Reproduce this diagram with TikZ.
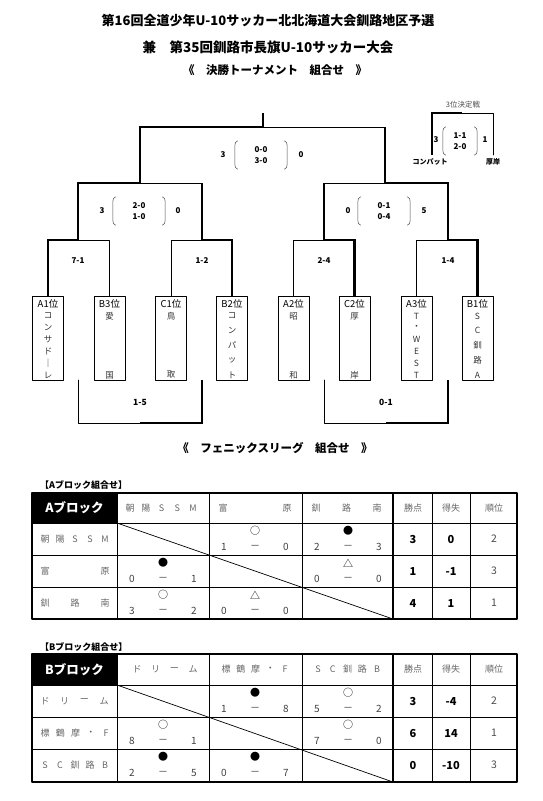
\documentclass[tikz,border=0pt]{standalone}
\usepackage{fontspec}
\setmainfont{Noto Sans CJK JP}
\newcommand\fs[1]{\fontsize{#1}{#1}\selectfont}
% team box with its entry written downwards
\newcommand\team[5]{%
  \node[teambox] (#1) at (#2,338) {};
  \node[teamhd] (#1h) at (#2,304) {#3};
  \foreach \c [count=\i] in {#4}
    \node[teamch] (#1c\i) at (#2,{316+(\i-1)*59/#5}) {\c};
}
% letters spread evenly from x0 to x1
\newcommand\spreadtxt[6]{%
  \foreach \c [count=\i] in {#6}
    \node[lbl] (#1\i) at ({#2+(\i-1)*(#3-#2)/#5},#4) {\c};
}
\newcommand\gamecell[6]{%
  \node[sym] (#1s) at ({#2+46},{#3+8}) {#4};
  \node[num] (#1a) at ({#2+15},{#3+24}) {#5};
  \node[num] (#1d) at ({#2+46},{#3+24}) {－};
  \node[num] (#1b) at ({#2+77},{#3+24}) {#6};
}
\newcommand\pointrow[5]{%
  \node[pt] (#1p) at (413,#2) {#3};
  \node[pt] (#1g) at (451,#2) {#4};
  \node[rk] (#1r) at (494,#2) {#5};
}
\newcommand\parens[1]{%
  \draw[paren] ([xshift=3pt]#1.north west) to[out=180,in=90] ([yshift=-5pt]#1.north west)
    -- ([yshift=5pt]#1.south west) to[out=-90,in=180] ([xshift=3pt]#1.south west);
  \draw[paren] ([xshift=-3pt]#1.north east) to[out=0,in=90] ([yshift=-5pt]#1.north east)
    -- ([yshift=5pt]#1.south east) to[out=-90,in=0] ([xshift=-3pt]#1.south east);
}
\begin{document}
\begin{tikzpicture}[x=1pt,y=-1pt,line join=round,line cap=round,
  title/.style={font=\bfseries\fs{13}},
  lose/.style={line width=0.8pt},
  win/.style={line width=2.8pt,line cap=butt,line join=miter},
  teambox/.style={draw,line width=0.8pt,minimum width=31pt,minimum height=84pt,inner sep=0},
  teamhd/.style={font=\fs{9.5},inner sep=0},
  teamch/.style={font=\fs{8.5},text=black!80,inner sep=0},
  score/.style={font=\bfseries\fs{8},inner sep=0},
  pair/.style={font=\bfseries\fs{8},align=center,minimum width=52pt,minimum height=28pt,inner sep=0},
  paren/.style={line width=0.5pt,black!70},
  lbl/.style={font=\fs{9},text=black!60,inner sep=0},
  sym/.style={font=\fs{10},inner sep=0},
  num/.style={font=\fs{10},text=black!75,inner sep=0},
  pt/.style={font=\bfseries\fs{11},inner sep=0},
  rk/.style={font=\fs{10.5},text=black!70,inner sep=0},
  grid/.style={line width=0.7pt},
  frame/.style={line width=1.4pt},
  tbltitle/.style={font=\bfseries\fs{9},anchor=west,inner sep=0},
  blk/.style={font=\bfseries\fs{12.5},text=white,inner sep=0}]
\useasboundingbox (0,0) rectangle (543,801);

\node[title] (t1) at (268,21) {第16回全道少年U-10サッカー北北海道大会釧路地区予選};
\node[title,font=\bfseries\fs{13.5}] (t2) at (268,47) {兼　第35回釧路市長旗U-10サッカー大会};
\node[title,font=\bfseries\fs{11.5}] (t3) at (275,70) {《　決勝トーナメント　組合せ　》};

\team{A1}{48}{A1位}{コ,ン,サ,ド,｜,レ}{5}
\team{B3}{109.5}{B3位}{愛,国}{1}
\team{C1}{171}{C1位}{鳥,取}{1}
\team{B2}{232}{B2位}{コ,ン,パ,ッ,ト}{4}
\team{A2}{293.5}{A2位}{昭,和}{1}
\team{C2}{354.5}{C2位}{厚,岸}{1}
\team{A3}{416.5}{A3位}{T,・,W,E,S,T}{5}
\team{B1}{477.5}{B1位}{S,C,釧,路,A}{4}

\path
(78,240) coordinate (q1)
(202,240) coordinate (q2)
(324,240) coordinate (q3)
(448,240) coordinate (q4)
(140,183) coordinate (s1)
(385,183) coordinate (s2)
(263,127) coordinate (f)
(263,113) coordinate (top)
(432,155) coordinate (p3l)
(493,155) coordinate (p3r)
(462,113) coordinate (p3)
(78,380) coordinate (l1)
(202,380) coordinate (l2)
(324,380) coordinate (l3)
(448,380) coordinate (l4)
(140,423) coordinate (lm1)
(386,423) coordinate (lm2)
;
% thin lines first, the winners on top
\draw[lose] (q1) -- (B3.north |- q1) -- (B3.north);
\draw[lose] (C1.north) -- (C1.north |- q2) -- (q2) |- (s1);
\draw[lose] (A2.north) -- (A2.north |- q3) -- (q3) |- (s2);
\draw[lose] (A3.north) -- (A3.north |- q4) -- (q4);
\draw[lose] (s2) |- (f);
\draw[lose] (p3) -| (p3r);
\draw[lose] (l1) |- (lm1);
\draw[lose] (l3) |- (lm2);
\draw[win] (A1.north) -- (A1.north |- q1) -- (q1) |- (s1) |- (f) -- (top);
\draw[win] (B2.north) -- (B2.north |- q2) -- (q2) -- (q2 |- s1);
\draw[win] (C2.north) -- (C2.north |- q3) -- (q3) -- (q3 |- s2);
\draw[win] (B1.north) -- (B1.north |- q4) -- (q4) |- (s2) -- (s2 |- f);
\draw[win] (p3l) |- (p3);
\draw[win] (lm1) -| (l2);
\draw[win] (lm2) -| (l4);

% results
\foreach \n/\x/\s in {r1/78/7-1, r2/202/1-2, r3/324/2-4, r4/448/1-4}
  \node[score] (\n) at (\x,261) {\s};
\node[pair] (fin) at (261,155) {0-0\\[3pt]3-0};
\node[pair] (sf1) at (139,211) {2-0\\[3pt]1-0};
\node[pair] (sf2) at (384,211) {0-1\\[3pt]0-4};
\node[pair,minimum width=34pt] (thd) at (460,141) {1-1\\[3pt]2-0};
\parens{fin} \parens{sf1} \parens{sf2} \parens{thd}
\foreach \n/\x/\y/\s in {fa/223/155/3, fb/301/155/0, sa/102/211/3, sb/178/211/0,
  sc/348/211/0, sd/424/211/5, ta/436/140/3, tb/485/140/1}
  \node[score] (\n) at (\x,\y) {\s};
\node[font=\fs{7.5},text=black!70,inner sep=0] (thdt) at (463,105) {3位決定戦};
\node[score,font=\bfseries\fs{7}] (thda) at (430,162) {コンパット};
\node[score,font=\bfseries\fs{7}] (thdb) at (493,162) {厚岸};
\node[score,font=\bfseries\fs{8.5}] (lg1) at (140,402) {1-5};
\node[score,font=\bfseries\fs{8.5}] (lg2) at (386,402) {0-1};

\node[title,font=\bfseries\fs{11.5}] (t4) at (275,448) {《　フェニックスリーグ　組合せ　》};

% A block
\begin{scope}[shift={(0,493)}]
\node[tbltitle] (atl) at (40,-8) {【Aブロック組合せ】};
\fill (32,0) rectangle (117,30);
\node[blk] (ahd) at (74.5,15) {Aブロック};
\foreach \y in {30,62,94} \draw[grid] (32,\y) -- (517,\y);
\foreach \x in {117,209,302,432,470} \draw[grid] (\x,0) -- (\x,126);
\draw[grid] (117,30) -- (393,126);
\draw[frame] (393,0) -- (393,126);
\draw[frame] (32,0) rectangle (517,126);
\spreadtxt{ah1}{130}{193}{15}{4}{朝,陽,S,S,M}
\spreadtxt{ah2}{223}{287}{15}{1}{富,原}
\spreadtxt{ah3}{316}{377}{15}{2}{釧,路,南}
\spreadtxt{ar1}{45}{105}{46}{4}{朝,陽,S,S,M}
\spreadtxt{ar2}{45}{105}{78}{1}{富,原}
\spreadtxt{ar3}{45}{105}{110}{2}{釧,路,南}
\foreach \t/\x [count=\i] in {勝点/413,得失/451,順位/494}
  \node[lbl] (ak\i) at (\x,15) {\t};
\gamecell{a12}{209}{30}{○}{1}{0}
\gamecell{a13}{302}{30}{●}{2}{3}
\gamecell{a21}{117}{62}{●}{0}{1}
\gamecell{a23}{302}{62}{△}{0}{0}
\gamecell{a31}{117}{94}{○}{3}{2}
\gamecell{a32}{209}{94}{△}{0}{0}
\pointrow{ap1}{46}{3}{0}{2}
\pointrow{ap2}{78}{1}{-1}{3}
\pointrow{ap3}{110}{4}{1}{1}
\end{scope}

% B block
\begin{scope}[shift={(0,654)}]
\node[tbltitle] (btl) at (40,-7) {【Bブロック組合せ】};
\fill (32,0) rectangle (117,31);
\node[blk] (bhd) at (74.5,15.5) {Bブロック};
\foreach \y in {31,63,95} \draw[grid] (32,\y) -- (517,\y);
\foreach \x in {117,209,302,432,470} \draw[grid] (\x,0) -- (\x,128);
\draw[grid] (117,31) -- (393,128);
\draw[frame] (393,0) -- (393,128);
\draw[frame] (32,0) rectangle (517,128);
\spreadtxt{bh1}{137}{193}{15.5}{3}{ド,リ,ー,ム}
\spreadtxt{bh2}{226}{285}{15.5}{4}{標,鶴,摩,・,F}
\spreadtxt{bh3}{318}{377}{15.5}{4}{S,C,釧,路,B}
\spreadtxt{br1}{45}{104}{47}{3}{ド,リ,ー,ム}
\spreadtxt{br2}{45}{106}{79}{4}{標,鶴,摩,・,F}
\spreadtxt{br3}{45}{105}{111}{4}{S,C,釧,路,B}
\foreach \t/\x [count=\i] in {勝点/413,得失/451,順位/494}
  \node[lbl] (bk\i) at (\x,15.5) {\t};
\gamecell{b12}{209}{31}{●}{1}{8}
\gamecell{b13}{302}{31}{○}{5}{2}
\gamecell{b21}{117}{63}{○}{8}{1}
\gamecell{b23}{302}{63}{○}{7}{0}
\gamecell{b31}{117}{95}{●}{2}{5}
\gamecell{b32}{209}{95}{●}{0}{7}
\pointrow{bp1}{47}{3}{-4}{2}
\pointrow{bp2}{79}{6}{14}{1}
\pointrow{bp3}{111}{0}{-10}{3}
\end{scope}
\end{tikzpicture}
\end{document}
